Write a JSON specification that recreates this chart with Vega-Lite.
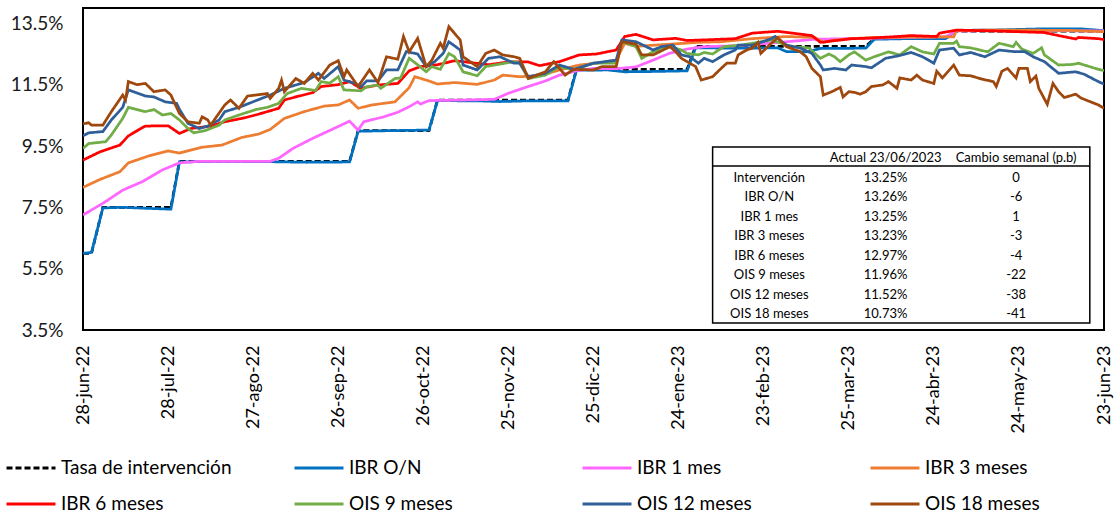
{
  "$schema": "https://vega.github.io/schema/vega-lite/v6.json",
  "width": 1021,
  "height": 322,
  "autosize": {"type": "none"},
  "padding": {"left": 83, "top": 8, "right": 11, "bottom": 183},
  "config": {
    "font": "Lato",
    "view": {"stroke": "black", "strokeWidth": 2},
    "axis": {"grid": false, "domain": false, "ticks": false, "tickSize": 0}
  },
  "datasets": {
    "series": [
      {"fecha":"2022-06-28","serie":"Tasa de intervención","valor":6.0},
      {"fecha":"2022-07-01","serie":"Tasa de intervención","valor":6.0},
      {"fecha":"2022-07-05","serie":"Tasa de intervención","valor":7.5},
      {"fecha":"2022-07-29","serie":"Tasa de intervención","valor":7.5},
      {"fecha":"2022-08-01","serie":"Tasa de intervención","valor":9.0},
      {"fecha":"2022-09-30","serie":"Tasa de intervención","valor":9.0},
      {"fecha":"2022-10-03","serie":"Tasa de intervención","valor":10.0},
      {"fecha":"2022-10-28","serie":"Tasa de intervención","valor":10.0},
      {"fecha":"2022-10-31","serie":"Tasa de intervención","valor":11.0},
      {"fecha":"2022-12-16","serie":"Tasa de intervención","valor":11.0},
      {"fecha":"2022-12-19","serie":"Tasa de intervención","valor":12.0},
      {"fecha":"2023-01-27","serie":"Tasa de intervención","valor":12.0},
      {"fecha":"2023-01-30","serie":"Tasa de intervención","valor":12.75},
      {"fecha":"2023-03-31","serie":"Tasa de intervención","valor":12.75},
      {"fecha":"2023-04-03","serie":"Tasa de intervención","valor":13.0},
      {"fecha":"2023-04-28","serie":"Tasa de intervención","valor":13.0},
      {"fecha":"2023-05-02","serie":"Tasa de intervención","valor":13.25},
      {"fecha":"2023-06-23","serie":"Tasa de intervención","valor":13.25},

      {"fecha":"2022-06-28","serie":"IBR O/N","valor":6.0},
      {"fecha":"2022-07-01","serie":"IBR O/N","valor":6.03},
      {"fecha":"2022-07-05","serie":"IBR O/N","valor":7.48},
      {"fecha":"2022-07-12","serie":"IBR O/N","valor":7.5},
      {"fecha":"2022-07-20","serie":"IBR O/N","valor":7.47},
      {"fecha":"2022-07-29","serie":"IBR O/N","valor":7.44},
      {"fecha":"2022-08-01","serie":"IBR O/N","valor":8.98},
      {"fecha":"2022-08-15","serie":"IBR O/N","valor":9.0},
      {"fecha":"2022-09-01","serie":"IBR O/N","valor":8.99},
      {"fecha":"2022-09-15","serie":"IBR O/N","valor":8.97},
      {"fecha":"2022-09-30","serie":"IBR O/N","valor":8.98},
      {"fecha":"2022-10-03","serie":"IBR O/N","valor":9.98},
      {"fecha":"2022-10-14","serie":"IBR O/N","valor":10.0},
      {"fecha":"2022-10-28","serie":"IBR O/N","valor":10.02},
      {"fecha":"2022-10-31","serie":"IBR O/N","valor":10.98},
      {"fecha":"2022-11-15","serie":"IBR O/N","valor":10.97},
      {"fecha":"2022-11-22","serie":"IBR O/N","valor":10.95},
      {"fecha":"2022-12-01","serie":"IBR O/N","valor":10.97},
      {"fecha":"2022-12-16","serie":"IBR O/N","valor":10.97},
      {"fecha":"2022-12-19","serie":"IBR O/N","valor":11.97},
      {"fecha":"2022-12-30","serie":"IBR O/N","valor":11.98},
      {"fecha":"2023-01-05","serie":"IBR O/N","valor":11.92},
      {"fecha":"2023-01-15","serie":"IBR O/N","valor":11.93},
      {"fecha":"2023-01-27","serie":"IBR O/N","valor":11.95},
      {"fecha":"2023-01-30","serie":"IBR O/N","valor":12.7},
      {"fecha":"2023-02-15","serie":"IBR O/N","valor":12.69},
      {"fecha":"2023-02-28","serie":"IBR O/N","valor":12.7},
      {"fecha":"2023-03-03","serie":"IBR O/N","valor":12.58},
      {"fecha":"2023-03-10","serie":"IBR O/N","valor":12.57},
      {"fecha":"2023-03-15","serie":"IBR O/N","valor":12.68},
      {"fecha":"2023-03-31","serie":"IBR O/N","valor":12.69},
      {"fecha":"2023-04-03","serie":"IBR O/N","valor":12.98},
      {"fecha":"2023-04-14","serie":"IBR O/N","valor":13.0},
      {"fecha":"2023-04-28","serie":"IBR O/N","valor":13.0},
      {"fecha":"2023-05-02","serie":"IBR O/N","valor":13.27},
      {"fecha":"2023-05-15","serie":"IBR O/N","valor":13.28},
      {"fecha":"2023-06-01","serie":"IBR O/N","valor":13.32},
      {"fecha":"2023-06-15","serie":"IBR O/N","valor":13.32},
      {"fecha":"2023-06-23","serie":"IBR O/N","valor":13.26},

      {"fecha":"2022-06-28","serie":"IBR 1 mes","valor":7.25},
      {"fecha":"2022-07-05","serie":"IBR 1 mes","valor":7.63},
      {"fecha":"2022-07-12","serie":"IBR 1 mes","valor":8.06},
      {"fecha":"2022-07-19","serie":"IBR 1 mes","valor":8.34},
      {"fecha":"2022-07-26","serie":"IBR 1 mes","valor":8.72},
      {"fecha":"2022-08-01","serie":"IBR 1 mes","valor":8.95},
      {"fecha":"2022-08-08","serie":"IBR 1 mes","valor":9.0},
      {"fecha":"2022-09-02","serie":"IBR 1 mes","valor":9.0},
      {"fecha":"2022-09-05","serie":"IBR 1 mes","valor":9.1},
      {"fecha":"2022-09-10","serie":"IBR 1 mes","valor":9.42},
      {"fecha":"2022-09-17","serie":"IBR 1 mes","valor":9.75},
      {"fecha":"2022-09-24","serie":"IBR 1 mes","valor":10.05},
      {"fecha":"2022-09-30","serie":"IBR 1 mes","valor":10.31},
      {"fecha":"2022-10-03","serie":"IBR 1 mes","valor":10.02},
      {"fecha":"2022-10-05","serie":"IBR 1 mes","valor":10.29},
      {"fecha":"2022-10-12","serie":"IBR 1 mes","valor":10.45},
      {"fecha":"2022-10-17","serie":"IBR 1 mes","valor":10.6},
      {"fecha":"2022-10-21","serie":"IBR 1 mes","valor":10.78},
      {"fecha":"2022-10-24","serie":"IBR 1 mes","valor":10.94},
      {"fecha":"2022-10-25","serie":"IBR 1 mes","valor":10.87},
      {"fecha":"2022-10-28","serie":"IBR 1 mes","valor":10.98},
      {"fecha":"2022-11-10","serie":"IBR 1 mes","valor":11.0},
      {"fecha":"2022-11-20","serie":"IBR 1 mes","valor":11.02},
      {"fecha":"2022-11-25","serie":"IBR 1 mes","valor":11.22},
      {"fecha":"2022-12-02","serie":"IBR 1 mes","valor":11.44},
      {"fecha":"2022-12-08","serie":"IBR 1 mes","valor":11.62},
      {"fecha":"2022-12-13","serie":"IBR 1 mes","valor":11.81},
      {"fecha":"2022-12-19","serie":"IBR 1 mes","valor":11.95},
      {"fecha":"2022-12-25","serie":"IBR 1 mes","valor":12.03},
      {"fecha":"2023-01-02","serie":"IBR 1 mes","valor":12.02},
      {"fecha":"2023-01-09","serie":"IBR 1 mes","valor":12.08},
      {"fecha":"2023-01-15","serie":"IBR 1 mes","valor":12.3},
      {"fecha":"2023-01-21","serie":"IBR 1 mes","valor":12.53},
      {"fecha":"2023-01-27","serie":"IBR 1 mes","valor":12.66},
      {"fecha":"2023-02-02","serie":"IBR 1 mes","valor":12.74},
      {"fecha":"2023-02-14","serie":"IBR 1 mes","valor":12.77},
      {"fecha":"2023-02-25","serie":"IBR 1 mes","valor":12.85},
      {"fecha":"2023-03-13","serie":"IBR 1 mes","valor":12.98},
      {"fecha":"2023-03-25","serie":"IBR 1 mes","valor":13.0},
      {"fecha":"2023-04-05","serie":"IBR 1 mes","valor":13.02},
      {"fecha":"2023-04-20","serie":"IBR 1 mes","valor":13.05},
      {"fecha":"2023-04-28","serie":"IBR 1 mes","valor":13.06},
      {"fecha":"2023-05-02","serie":"IBR 1 mes","valor":13.25},
      {"fecha":"2023-05-20","serie":"IBR 1 mes","valor":13.27},
      {"fecha":"2023-06-10","serie":"IBR 1 mes","valor":13.26},
      {"fecha":"2023-06-23","serie":"IBR 1 mes","valor":13.25},

      {"fecha":"2022-06-28","serie":"IBR 3 meses","valor":8.15},
      {"fecha":"2022-07-04","serie":"IBR 3 meses","valor":8.41},
      {"fecha":"2022-07-11","serie":"IBR 3 meses","valor":8.66},
      {"fecha":"2022-07-14","serie":"IBR 3 meses","valor":8.95},
      {"fecha":"2022-07-21","serie":"IBR 3 meses","valor":9.17},
      {"fecha":"2022-07-28","serie":"IBR 3 meses","valor":9.34},
      {"fecha":"2022-08-01","serie":"IBR 3 meses","valor":9.27},
      {"fecha":"2022-08-09","serie":"IBR 3 meses","valor":9.46},
      {"fecha":"2022-08-16","serie":"IBR 3 meses","valor":9.53},
      {"fecha":"2022-08-23","serie":"IBR 3 meses","valor":9.78},
      {"fecha":"2022-08-29","serie":"IBR 3 meses","valor":9.89},
      {"fecha":"2022-09-02","serie":"IBR 3 meses","valor":10.04},
      {"fecha":"2022-09-07","serie":"IBR 3 meses","valor":10.4},
      {"fecha":"2022-09-14","serie":"IBR 3 meses","valor":10.62},
      {"fecha":"2022-09-21","serie":"IBR 3 meses","valor":10.8},
      {"fecha":"2022-09-26","serie":"IBR 3 meses","valor":10.84},
      {"fecha":"2022-09-30","serie":"IBR 3 meses","valor":11.0},
      {"fecha":"2022-10-03","serie":"IBR 3 meses","valor":10.73},
      {"fecha":"2022-10-08","serie":"IBR 3 meses","valor":10.84},
      {"fecha":"2022-10-16","serie":"IBR 3 meses","valor":10.94},
      {"fecha":"2022-10-21","serie":"IBR 3 meses","valor":11.4},
      {"fecha":"2022-10-23","serie":"IBR 3 meses","valor":11.76},
      {"fecha":"2022-10-28","serie":"IBR 3 meses","valor":11.62},
      {"fecha":"2022-10-31","serie":"IBR 3 meses","valor":11.52},
      {"fecha":"2022-11-06","serie":"IBR 3 meses","valor":11.57},
      {"fecha":"2022-11-14","serie":"IBR 3 meses","valor":11.51},
      {"fecha":"2022-11-20","serie":"IBR 3 meses","valor":11.65},
      {"fecha":"2022-11-23","serie":"IBR 3 meses","valor":11.81},
      {"fecha":"2022-11-29","serie":"IBR 3 meses","valor":11.76},
      {"fecha":"2022-12-06","serie":"IBR 3 meses","valor":11.79},
      {"fecha":"2022-12-13","serie":"IBR 3 meses","valor":11.98},
      {"fecha":"2022-12-20","serie":"IBR 3 meses","valor":12.14},
      {"fecha":"2022-12-26","serie":"IBR 3 meses","valor":12.2},
      {"fecha":"2023-01-02","serie":"IBR 3 meses","valor":12.3},
      {"fecha":"2023-01-05","serie":"IBR 3 meses","valor":12.85},
      {"fecha":"2023-01-09","serie":"IBR 3 meses","valor":12.75},
      {"fecha":"2023-01-21","serie":"IBR 3 meses","valor":12.82},
      {"fecha":"2023-01-31","serie":"IBR 3 meses","valor":12.88},
      {"fecha":"2023-02-08","serie":"IBR 3 meses","valor":12.9},
      {"fecha":"2023-02-19","serie":"IBR 3 meses","valor":13.0},
      {"fecha":"2023-03-03","serie":"IBR 3 meses","valor":13.07},
      {"fecha":"2023-03-13","serie":"IBR 3 meses","valor":13.04},
      {"fecha":"2023-03-16","serie":"IBR 3 meses","valor":12.88},
      {"fecha":"2023-03-20","serie":"IBR 3 meses","valor":12.95},
      {"fecha":"2023-03-26","serie":"IBR 3 meses","valor":13.0},
      {"fecha":"2023-04-03","serie":"IBR 3 meses","valor":13.04},
      {"fecha":"2023-04-20","serie":"IBR 3 meses","valor":13.05},
      {"fecha":"2023-05-01","serie":"IBR 3 meses","valor":13.06},
      {"fecha":"2023-05-02","serie":"IBR 3 meses","valor":13.27},
      {"fecha":"2023-05-20","serie":"IBR 3 meses","valor":13.28},
      {"fecha":"2023-06-10","serie":"IBR 3 meses","valor":13.27},
      {"fecha":"2023-06-23","serie":"IBR 3 meses","valor":13.23},

      {"fecha":"2022-06-28","serie":"IBR 6 meses","valor":9.04},
      {"fecha":"2022-07-04","serie":"IBR 6 meses","valor":9.31},
      {"fecha":"2022-07-11","serie":"IBR 6 meses","valor":9.53},
      {"fecha":"2022-07-14","serie":"IBR 6 meses","valor":9.83},
      {"fecha":"2022-07-18","serie":"IBR 6 meses","valor":10.05},
      {"fecha":"2022-07-20","serie":"IBR 6 meses","valor":10.15},
      {"fecha":"2022-07-28","serie":"IBR 6 meses","valor":10.16},
      {"fecha":"2022-08-01","serie":"IBR 6 meses","valor":9.91},
      {"fecha":"2022-08-05","serie":"IBR 6 meses","valor":10.07},
      {"fecha":"2022-08-12","serie":"IBR 6 meses","valor":10.15},
      {"fecha":"2022-08-17","serie":"IBR 6 meses","valor":10.29},
      {"fecha":"2022-08-24","serie":"IBR 6 meses","valor":10.42},
      {"fecha":"2022-08-29","serie":"IBR 6 meses","valor":10.54},
      {"fecha":"2022-09-05","serie":"IBR 6 meses","valor":10.73},
      {"fecha":"2022-09-07","serie":"IBR 6 meses","valor":11.0},
      {"fecha":"2022-09-11","serie":"IBR 6 meses","valor":11.1},
      {"fecha":"2022-09-17","serie":"IBR 6 meses","valor":11.24},
      {"fecha":"2022-09-20","serie":"IBR 6 meses","valor":11.44},
      {"fecha":"2022-09-26","serie":"IBR 6 meses","valor":11.5},
      {"fecha":"2022-09-30","serie":"IBR 6 meses","valor":11.6},
      {"fecha":"2022-10-04","serie":"IBR 6 meses","valor":11.38},
      {"fecha":"2022-10-10","serie":"IBR 6 meses","valor":11.49},
      {"fecha":"2022-10-17","serie":"IBR 6 meses","valor":11.54},
      {"fecha":"2022-10-21","serie":"IBR 6 meses","valor":11.95},
      {"fecha":"2022-10-25","serie":"IBR 6 meses","valor":12.09},
      {"fecha":"2022-10-31","serie":"IBR 6 meses","valor":12.15},
      {"fecha":"2022-11-06","serie":"IBR 6 meses","valor":12.28},
      {"fecha":"2022-11-10","serie":"IBR 6 meses","valor":12.24},
      {"fecha":"2022-11-18","serie":"IBR 6 meses","valor":12.15},
      {"fecha":"2022-11-25","serie":"IBR 6 meses","valor":12.24},
      {"fecha":"2022-12-02","serie":"IBR 6 meses","valor":12.24},
      {"fecha":"2022-12-06","serie":"IBR 6 meses","valor":12.12},
      {"fecha":"2022-12-13","serie":"IBR 6 meses","valor":12.25},
      {"fecha":"2022-12-20","serie":"IBR 6 meses","valor":12.47},
      {"fecha":"2022-12-26","serie":"IBR 6 meses","valor":12.5},
      {"fecha":"2023-01-02","serie":"IBR 6 meses","valor":12.63},
      {"fecha":"2023-01-05","serie":"IBR 6 meses","valor":13.07},
      {"fecha":"2023-01-09","serie":"IBR 6 meses","valor":13.14},
      {"fecha":"2023-01-15","serie":"IBR 6 meses","valor":12.96},
      {"fecha":"2023-01-23","serie":"IBR 6 meses","valor":13.01},
      {"fecha":"2023-01-27","serie":"IBR 6 meses","valor":12.94},
      {"fecha":"2023-02-02","serie":"IBR 6 meses","valor":12.96},
      {"fecha":"2023-02-13","serie":"IBR 6 meses","valor":13.0},
      {"fecha":"2023-02-19","serie":"IBR 6 meses","valor":13.18},
      {"fecha":"2023-02-28","serie":"IBR 6 meses","valor":13.24},
      {"fecha":"2023-03-05","serie":"IBR 6 meses","valor":13.18},
      {"fecha":"2023-03-12","serie":"IBR 6 meses","valor":13.1},
      {"fecha":"2023-03-15","serie":"IBR 6 meses","valor":12.88},
      {"fecha":"2023-03-26","serie":"IBR 6 meses","valor":13.0},
      {"fecha":"2023-04-02","serie":"IBR 6 meses","valor":13.02},
      {"fecha":"2023-04-11","serie":"IBR 6 meses","valor":13.07},
      {"fecha":"2023-04-16","serie":"IBR 6 meses","valor":13.1},
      {"fecha":"2023-04-25","serie":"IBR 6 meses","valor":13.07},
      {"fecha":"2023-04-26","serie":"IBR 6 meses","valor":13.18},
      {"fecha":"2023-05-02","serie":"IBR 6 meses","valor":13.28},
      {"fecha":"2023-05-16","serie":"IBR 6 meses","valor":13.25},
      {"fecha":"2023-06-02","serie":"IBR 6 meses","valor":13.2},
      {"fecha":"2023-06-07","serie":"IBR 6 meses","valor":13.1},
      {"fecha":"2023-06-13","serie":"IBR 6 meses","valor":12.99},
      {"fecha":"2023-06-14","serie":"IBR 6 meses","valor":13.04},
      {"fecha":"2023-06-21","serie":"IBR 6 meses","valor":13.0},
      {"fecha":"2023-06-23","serie":"IBR 6 meses","valor":12.97},

      {"fecha":"2022-06-28","serie":"OIS 9 meses","valor":9.42},
      {"fecha":"2022-06-30","serie":"OIS 9 meses","valor":9.58},
      {"fecha":"2022-07-06","serie":"OIS 9 meses","valor":9.64},
      {"fecha":"2022-07-08","serie":"OIS 9 meses","valor":9.86},
      {"fecha":"2022-07-12","serie":"OIS 9 meses","valor":10.4},
      {"fecha":"2022-07-14","serie":"OIS 9 meses","valor":10.76},
      {"fecha":"2022-07-20","serie":"OIS 9 meses","valor":10.62},
      {"fecha":"2022-07-23","serie":"OIS 9 meses","valor":10.69},
      {"fecha":"2022-07-26","serie":"OIS 9 meses","valor":10.51},
      {"fecha":"2022-07-29","serie":"OIS 9 meses","valor":10.56},
      {"fecha":"2022-08-01","serie":"OIS 9 meses","valor":10.35},
      {"fecha":"2022-08-04","serie":"OIS 9 meses","valor":10.07},
      {"fecha":"2022-08-06","serie":"OIS 9 meses","valor":9.93},
      {"fecha":"2022-08-10","serie":"OIS 9 meses","valor":10.0},
      {"fecha":"2022-08-15","serie":"OIS 9 meses","valor":10.18},
      {"fecha":"2022-08-17","serie":"OIS 9 meses","valor":10.35},
      {"fecha":"2022-08-22","serie":"OIS 9 meses","valor":10.51},
      {"fecha":"2022-08-28","serie":"OIS 9 meses","valor":10.69},
      {"fecha":"2022-09-01","serie":"OIS 9 meses","valor":10.76},
      {"fecha":"2022-09-05","serie":"OIS 9 meses","valor":10.89},
      {"fecha":"2022-09-08","serie":"OIS 9 meses","valor":11.21},
      {"fecha":"2022-09-13","serie":"OIS 9 meses","valor":11.38},
      {"fecha":"2022-09-18","serie":"OIS 9 meses","valor":11.31},
      {"fecha":"2022-09-20","serie":"OIS 9 meses","valor":11.6},
      {"fecha":"2022-09-23","serie":"OIS 9 meses","valor":11.55},
      {"fecha":"2022-09-26","serie":"OIS 9 meses","valor":11.76},
      {"fecha":"2022-09-28","serie":"OIS 9 meses","valor":11.33},
      {"fecha":"2022-10-04","serie":"OIS 9 meses","valor":11.3},
      {"fecha":"2022-10-06","serie":"OIS 9 meses","valor":11.43},
      {"fecha":"2022-10-10","serie":"OIS 9 meses","valor":11.49},
      {"fecha":"2022-10-11","serie":"OIS 9 meses","valor":11.38},
      {"fecha":"2022-10-16","serie":"OIS 9 meses","valor":11.7},
      {"fecha":"2022-10-18","serie":"OIS 9 meses","valor":11.72},
      {"fecha":"2022-10-21","serie":"OIS 9 meses","valor":12.36},
      {"fecha":"2022-10-24","serie":"OIS 9 meses","valor":12.15},
      {"fecha":"2022-10-27","serie":"OIS 9 meses","valor":11.92},
      {"fecha":"2022-10-29","serie":"OIS 9 meses","valor":12.09},
      {"fecha":"2022-11-01","serie":"OIS 9 meses","valor":12.0},
      {"fecha":"2022-11-04","serie":"OIS 9 meses","valor":12.52},
      {"fecha":"2022-11-06","serie":"OIS 9 meses","valor":12.41},
      {"fecha":"2022-11-09","serie":"OIS 9 meses","valor":11.92},
      {"fecha":"2022-11-14","serie":"OIS 9 meses","valor":11.79},
      {"fecha":"2022-11-17","serie":"OIS 9 meses","valor":12.09},
      {"fecha":"2022-11-20","serie":"OIS 9 meses","valor":12.14},
      {"fecha":"2022-11-27","serie":"OIS 9 meses","valor":12.25},
      {"fecha":"2022-11-29","serie":"OIS 9 meses","valor":12.2},
      {"fecha":"2022-12-02","serie":"OIS 9 meses","valor":11.7},
      {"fecha":"2022-12-08","serie":"OIS 9 meses","valor":11.81},
      {"fecha":"2022-12-13","serie":"OIS 9 meses","valor":12.09},
      {"fecha":"2022-12-18","serie":"OIS 9 meses","valor":11.98},
      {"fecha":"2022-12-25","serie":"OIS 9 meses","valor":12.2},
      {"fecha":"2023-01-02","serie":"OIS 9 meses","valor":12.2},
      {"fecha":"2023-01-04","serie":"OIS 9 meses","valor":12.9},
      {"fecha":"2023-01-09","serie":"OIS 9 meses","valor":12.74},
      {"fecha":"2023-01-11","serie":"OIS 9 meses","valor":12.36},
      {"fecha":"2023-01-15","serie":"OIS 9 meses","valor":12.57},
      {"fecha":"2023-01-21","serie":"OIS 9 meses","valor":12.74},
      {"fecha":"2023-01-25","serie":"OIS 9 meses","valor":12.63},
      {"fecha":"2023-01-27","serie":"OIS 9 meses","valor":12.52},
      {"fecha":"2023-01-31","serie":"OIS 9 meses","valor":12.47},
      {"fecha":"2023-02-02","serie":"OIS 9 meses","valor":12.55},
      {"fecha":"2023-02-05","serie":"OIS 9 meses","valor":12.5},
      {"fecha":"2023-02-09","serie":"OIS 9 meses","valor":12.74},
      {"fecha":"2023-02-15","serie":"OIS 9 meses","valor":12.79},
      {"fecha":"2023-02-19","serie":"OIS 9 meses","valor":12.85},
      {"fecha":"2023-02-26","serie":"OIS 9 meses","valor":12.96},
      {"fecha":"2023-02-28","serie":"OIS 9 meses","valor":12.88},
      {"fecha":"2023-03-05","serie":"OIS 9 meses","valor":12.74},
      {"fecha":"2023-03-11","serie":"OIS 9 meses","valor":12.7},
      {"fecha":"2023-03-13","serie":"OIS 9 meses","valor":12.52},
      {"fecha":"2023-03-15","serie":"OIS 9 meses","valor":12.36},
      {"fecha":"2023-03-18","serie":"OIS 9 meses","valor":12.5},
      {"fecha":"2023-03-20","serie":"OIS 9 meses","valor":12.41},
      {"fecha":"2023-03-22","serie":"OIS 9 meses","valor":12.25},
      {"fecha":"2023-03-25","serie":"OIS 9 meses","valor":12.47},
      {"fecha":"2023-03-27","serie":"OIS 9 meses","valor":12.57},
      {"fecha":"2023-03-31","serie":"OIS 9 meses","valor":12.3},
      {"fecha":"2023-04-03","serie":"OIS 9 meses","valor":12.41},
      {"fecha":"2023-04-08","serie":"OIS 9 meses","valor":12.57},
      {"fecha":"2023-04-12","serie":"OIS 9 meses","valor":12.47},
      {"fecha":"2023-04-16","serie":"OIS 9 meses","valor":12.74},
      {"fecha":"2023-04-20","serie":"OIS 9 meses","valor":12.57},
      {"fecha":"2023-04-24","serie":"OIS 9 meses","valor":12.5},
      {"fecha":"2023-04-26","serie":"OIS 9 meses","valor":12.85},
      {"fecha":"2023-05-01","serie":"OIS 9 meses","valor":12.85},
      {"fecha":"2023-05-02","serie":"OIS 9 meses","valor":12.92},
      {"fecha":"2023-05-03","serie":"OIS 9 meses","valor":12.74},
      {"fecha":"2023-05-07","serie":"OIS 9 meses","valor":12.7},
      {"fecha":"2023-05-13","serie":"OIS 9 meses","valor":12.57},
      {"fecha":"2023-05-17","serie":"OIS 9 meses","valor":12.85},
      {"fecha":"2023-05-22","serie":"OIS 9 meses","valor":12.74},
      {"fecha":"2023-05-23","serie":"OIS 9 meses","valor":12.88},
      {"fecha":"2023-05-25","serie":"OIS 9 meses","valor":12.66},
      {"fecha":"2023-05-29","serie":"OIS 9 meses","valor":12.52},
      {"fecha":"2023-06-01","serie":"OIS 9 meses","valor":12.7},
      {"fecha":"2023-06-02","serie":"OIS 9 meses","valor":12.47},
      {"fecha":"2023-06-07","serie":"OIS 9 meses","valor":12.14},
      {"fecha":"2023-06-12","serie":"OIS 9 meses","valor":12.16},
      {"fecha":"2023-06-14","serie":"OIS 9 meses","valor":12.2},
      {"fecha":"2023-06-21","serie":"OIS 9 meses","valor":12.0},
      {"fecha":"2023-06-23","serie":"OIS 9 meses","valor":11.96},

      {"fecha":"2022-06-28","serie":"OIS 12 meses","valor":9.83},
      {"fecha":"2022-06-30","serie":"OIS 12 meses","valor":9.93},
      {"fecha":"2022-07-05","serie":"OIS 12 meses","valor":9.97},
      {"fecha":"2022-07-08","serie":"OIS 12 meses","valor":10.35},
      {"fecha":"2022-07-12","serie":"OIS 12 meses","valor":10.76},
      {"fecha":"2022-07-14","serie":"OIS 12 meses","valor":11.33},
      {"fecha":"2022-07-20","serie":"OIS 12 meses","valor":11.13},
      {"fecha":"2022-07-23","serie":"OIS 12 meses","valor":11.1},
      {"fecha":"2022-07-27","serie":"OIS 12 meses","valor":10.94},
      {"fecha":"2022-07-31","serie":"OIS 12 meses","valor":10.89},
      {"fecha":"2022-08-01","serie":"OIS 12 meses","valor":10.7},
      {"fecha":"2022-08-04","serie":"OIS 12 meses","valor":10.24},
      {"fecha":"2022-08-08","serie":"OIS 12 meses","valor":10.07},
      {"fecha":"2022-08-11","serie":"OIS 12 meses","valor":10.15},
      {"fecha":"2022-08-15","serie":"OIS 12 meses","valor":10.35},
      {"fecha":"2022-08-17","serie":"OIS 12 meses","valor":10.62},
      {"fecha":"2022-08-22","serie":"OIS 12 meses","valor":10.76},
      {"fecha":"2022-08-28","serie":"OIS 12 meses","valor":10.98},
      {"fecha":"2022-09-02","serie":"OIS 12 meses","valor":11.16},
      {"fecha":"2022-09-07","serie":"OIS 12 meses","valor":11.38},
      {"fecha":"2022-09-14","serie":"OIS 12 meses","valor":11.57},
      {"fecha":"2022-09-19","serie":"OIS 12 meses","valor":11.87},
      {"fecha":"2022-09-21","serie":"OIS 12 meses","valor":11.7},
      {"fecha":"2022-09-26","serie":"OIS 12 meses","valor":12.09},
      {"fecha":"2022-09-28","serie":"OIS 12 meses","valor":11.65},
      {"fecha":"2022-10-02","serie":"OIS 12 meses","valor":11.54},
      {"fecha":"2022-10-04","serie":"OIS 12 meses","valor":11.43},
      {"fecha":"2022-10-06","serie":"OIS 12 meses","valor":11.62},
      {"fecha":"2022-10-10","serie":"OIS 12 meses","valor":11.62},
      {"fecha":"2022-10-13","serie":"OIS 12 meses","valor":11.98},
      {"fecha":"2022-10-17","serie":"OIS 12 meses","valor":11.98},
      {"fecha":"2022-10-20","serie":"OIS 12 meses","valor":12.58},
      {"fecha":"2022-10-24","serie":"OIS 12 meses","valor":12.5},
      {"fecha":"2022-10-27","serie":"OIS 12 meses","valor":12.09},
      {"fecha":"2022-10-30","serie":"OIS 12 meses","valor":12.25},
      {"fecha":"2022-11-02","serie":"OIS 12 meses","valor":12.52},
      {"fecha":"2022-11-04","serie":"OIS 12 meses","valor":12.9},
      {"fecha":"2022-11-08","serie":"OIS 12 meses","valor":12.63},
      {"fecha":"2022-11-09","serie":"OIS 12 meses","valor":12.14},
      {"fecha":"2022-11-14","serie":"OIS 12 meses","valor":11.98},
      {"fecha":"2022-11-18","serie":"OIS 12 meses","valor":12.36},
      {"fecha":"2022-11-22","serie":"OIS 12 meses","valor":12.41},
      {"fecha":"2022-11-27","serie":"OIS 12 meses","valor":12.2},
      {"fecha":"2022-11-29","serie":"OIS 12 meses","valor":12.2},
      {"fecha":"2022-12-02","serie":"OIS 12 meses","valor":11.76},
      {"fecha":"2022-12-08","serie":"OIS 12 meses","valor":11.87},
      {"fecha":"2022-12-13","serie":"OIS 12 meses","valor":12.14},
      {"fecha":"2022-12-18","serie":"OIS 12 meses","valor":12.0},
      {"fecha":"2022-12-25","serie":"OIS 12 meses","valor":12.2},
      {"fecha":"2023-01-02","serie":"OIS 12 meses","valor":12.3},
      {"fecha":"2023-01-04","serie":"OIS 12 meses","valor":12.96},
      {"fecha":"2023-01-09","serie":"OIS 12 meses","valor":12.9},
      {"fecha":"2023-01-15","serie":"OIS 12 meses","valor":12.63},
      {"fecha":"2023-01-18","serie":"OIS 12 meses","valor":12.74},
      {"fecha":"2023-01-22","serie":"OIS 12 meses","valor":12.79},
      {"fecha":"2023-01-25","serie":"OIS 12 meses","valor":12.47},
      {"fecha":"2023-01-28","serie":"OIS 12 meses","valor":12.41},
      {"fecha":"2023-01-31","serie":"OIS 12 meses","valor":12.2},
      {"fecha":"2023-02-02","serie":"OIS 12 meses","valor":12.36},
      {"fecha":"2023-02-05","serie":"OIS 12 meses","valor":12.25},
      {"fecha":"2023-02-09","serie":"OIS 12 meses","valor":12.47},
      {"fecha":"2023-02-13","serie":"OIS 12 meses","valor":12.63},
      {"fecha":"2023-02-14","serie":"OIS 12 meses","valor":12.79},
      {"fecha":"2023-02-19","serie":"OIS 12 meses","valor":12.79},
      {"fecha":"2023-02-22","serie":"OIS 12 meses","valor":12.88},
      {"fecha":"2023-02-26","serie":"OIS 12 meses","valor":13.01},
      {"fecha":"2023-02-27","serie":"OIS 12 meses","valor":13.07},
      {"fecha":"2023-03-03","serie":"OIS 12 meses","valor":12.79},
      {"fecha":"2023-03-08","serie":"OIS 12 meses","valor":12.69},
      {"fecha":"2023-03-12","serie":"OIS 12 meses","valor":12.52},
      {"fecha":"2023-03-15","serie":"OIS 12 meses","valor":12.14},
      {"fecha":"2023-03-16","serie":"OIS 12 meses","valor":11.98},
      {"fecha":"2023-03-20","serie":"OIS 12 meses","valor":12.03},
      {"fecha":"2023-03-24","serie":"OIS 12 meses","valor":11.98},
      {"fecha":"2023-03-26","serie":"OIS 12 meses","valor":12.14},
      {"fecha":"2023-03-31","serie":"OIS 12 meses","valor":12.09},
      {"fecha":"2023-04-02","serie":"OIS 12 meses","valor":12.05},
      {"fecha":"2023-04-07","serie":"OIS 12 meses","valor":12.36},
      {"fecha":"2023-04-12","serie":"OIS 12 meses","valor":12.45},
      {"fecha":"2023-04-16","serie":"OIS 12 meses","valor":12.55},
      {"fecha":"2023-04-20","serie":"OIS 12 meses","valor":12.41},
      {"fecha":"2023-04-24","serie":"OIS 12 meses","valor":12.2},
      {"fecha":"2023-04-26","serie":"OIS 12 meses","valor":12.63},
      {"fecha":"2023-05-01","serie":"OIS 12 meses","valor":12.69},
      {"fecha":"2023-05-03","serie":"OIS 12 meses","valor":12.47},
      {"fecha":"2023-05-07","serie":"OIS 12 meses","valor":12.55},
      {"fecha":"2023-05-12","serie":"OIS 12 meses","valor":12.41},
      {"fecha":"2023-05-17","serie":"OIS 12 meses","valor":12.63},
      {"fecha":"2023-05-22","serie":"OIS 12 meses","valor":12.58},
      {"fecha":"2023-05-26","serie":"OIS 12 meses","valor":12.58},
      {"fecha":"2023-05-29","serie":"OIS 12 meses","valor":12.41},
      {"fecha":"2023-06-02","serie":"OIS 12 meses","valor":12.25},
      {"fecha":"2023-06-07","serie":"OIS 12 meses","valor":11.87},
      {"fecha":"2023-06-13","serie":"OIS 12 meses","valor":11.92},
      {"fecha":"2023-06-16","serie":"OIS 12 meses","valor":11.84},
      {"fecha":"2023-06-21","serie":"OIS 12 meses","valor":11.6},
      {"fecha":"2023-06-23","serie":"OIS 12 meses","valor":11.52},

      {"fecha":"2022-06-28","serie":"OIS 18 meses","valor":10.22},
      {"fecha":"2022-06-30","serie":"OIS 18 meses","valor":10.26},
      {"fecha":"2022-07-01","serie":"OIS 18 meses","valor":10.18},
      {"fecha":"2022-07-05","serie":"OIS 18 meses","valor":10.18},
      {"fecha":"2022-07-08","serie":"OIS 18 meses","valor":10.62},
      {"fecha":"2022-07-12","serie":"OIS 18 meses","valor":11.16},
      {"fecha":"2022-07-13","serie":"OIS 18 meses","valor":11.0},
      {"fecha":"2022-07-14","serie":"OIS 18 meses","valor":11.6},
      {"fecha":"2022-07-17","serie":"OIS 18 meses","valor":11.5},
      {"fecha":"2022-07-20","serie":"OIS 18 meses","valor":11.54},
      {"fecha":"2022-07-23","serie":"OIS 18 meses","valor":11.27},
      {"fecha":"2022-07-27","serie":"OIS 18 meses","valor":11.33},
      {"fecha":"2022-07-29","serie":"OIS 18 meses","valor":11.16},
      {"fecha":"2022-08-01","serie":"OIS 18 meses","valor":10.56},
      {"fecha":"2022-08-04","serie":"OIS 18 meses","valor":10.29},
      {"fecha":"2022-08-08","serie":"OIS 18 meses","valor":10.24},
      {"fecha":"2022-08-09","serie":"OIS 18 meses","valor":10.45},
      {"fecha":"2022-08-11","serie":"OIS 18 meses","valor":10.35},
      {"fecha":"2022-08-12","serie":"OIS 18 meses","valor":10.18},
      {"fecha":"2022-08-17","serie":"OIS 18 meses","valor":10.84},
      {"fecha":"2022-08-19","serie":"OIS 18 meses","valor":11.0},
      {"fecha":"2022-08-22","serie":"OIS 18 meses","valor":10.73},
      {"fecha":"2022-08-25","serie":"OIS 18 meses","valor":11.13},
      {"fecha":"2022-09-01","serie":"OIS 18 meses","valor":11.21},
      {"fecha":"2022-09-02","serie":"OIS 18 meses","valor":11.05},
      {"fecha":"2022-09-05","serie":"OIS 18 meses","valor":11.38},
      {"fecha":"2022-09-06","serie":"OIS 18 meses","valor":11.65},
      {"fecha":"2022-09-07","serie":"OIS 18 meses","valor":11.27},
      {"fecha":"2022-09-11","serie":"OIS 18 meses","valor":11.7},
      {"fecha":"2022-09-14","serie":"OIS 18 meses","valor":11.54},
      {"fecha":"2022-09-17","serie":"OIS 18 meses","valor":11.87},
      {"fecha":"2022-09-19","serie":"OIS 18 meses","valor":11.65},
      {"fecha":"2022-09-23","serie":"OIS 18 meses","valor":12.14},
      {"fecha":"2022-09-26","serie":"OIS 18 meses","valor":12.28},
      {"fecha":"2022-09-28","serie":"OIS 18 meses","valor":11.76},
      {"fecha":"2022-09-29","serie":"OIS 18 meses","valor":11.98},
      {"fecha":"2022-10-03","serie":"OIS 18 meses","valor":11.44},
      {"fecha":"2022-10-07","serie":"OIS 18 meses","valor":11.98},
      {"fecha":"2022-10-10","serie":"OIS 18 meses","valor":11.57},
      {"fecha":"2022-10-13","serie":"OIS 18 meses","valor":12.41},
      {"fecha":"2022-10-17","serie":"OIS 18 meses","valor":12.33},
      {"fecha":"2022-10-19","serie":"OIS 18 meses","valor":13.07},
      {"fecha":"2022-10-21","serie":"OIS 18 meses","valor":12.57},
      {"fecha":"2022-10-24","serie":"OIS 18 meses","valor":13.01},
      {"fecha":"2022-10-27","serie":"OIS 18 meses","valor":12.09},
      {"fecha":"2022-10-29","serie":"OIS 18 meses","valor":12.3},
      {"fecha":"2022-11-01","serie":"OIS 18 meses","valor":12.85},
      {"fecha":"2022-11-02","serie":"OIS 18 meses","valor":12.69},
      {"fecha":"2022-11-04","serie":"OIS 18 meses","valor":13.39},
      {"fecha":"2022-11-08","serie":"OIS 18 meses","valor":12.96},
      {"fecha":"2022-11-09","serie":"OIS 18 meses","valor":12.41},
      {"fecha":"2022-11-14","serie":"OIS 18 meses","valor":12.09},
      {"fecha":"2022-11-17","serie":"OIS 18 meses","valor":12.52},
      {"fecha":"2022-11-20","serie":"OIS 18 meses","valor":12.63},
      {"fecha":"2022-11-23","serie":"OIS 18 meses","valor":12.47},
      {"fecha":"2022-11-27","serie":"OIS 18 meses","valor":12.41},
      {"fecha":"2022-11-29","serie":"OIS 18 meses","valor":12.36},
      {"fecha":"2022-12-02","serie":"OIS 18 meses","valor":11.7},
      {"fecha":"2022-12-08","serie":"OIS 18 meses","valor":11.92},
      {"fecha":"2022-12-11","serie":"OIS 18 meses","valor":12.25},
      {"fecha":"2022-12-15","serie":"OIS 18 meses","valor":11.81},
      {"fecha":"2022-12-18","serie":"OIS 18 meses","valor":12.0},
      {"fecha":"2022-12-25","serie":"OIS 18 meses","valor":11.98},
      {"fecha":"2022-12-28","serie":"OIS 18 meses","valor":12.09},
      {"fecha":"2023-01-02","serie":"OIS 18 meses","valor":12.09},
      {"fecha":"2023-01-04","serie":"OIS 18 meses","valor":12.9},
      {"fecha":"2023-01-09","serie":"OIS 18 meses","valor":12.82},
      {"fecha":"2023-01-11","serie":"OIS 18 meses","valor":12.47},
      {"fecha":"2023-01-15","serie":"OIS 18 meses","valor":12.47},
      {"fecha":"2023-01-21","serie":"OIS 18 meses","valor":12.74},
      {"fecha":"2023-01-23","serie":"OIS 18 meses","valor":12.57},
      {"fecha":"2023-01-25","serie":"OIS 18 meses","valor":12.36},
      {"fecha":"2023-01-27","serie":"OIS 18 meses","valor":12.25},
      {"fecha":"2023-01-30","serie":"OIS 18 meses","valor":12.09},
      {"fecha":"2023-02-01","serie":"OIS 18 meses","valor":11.65},
      {"fecha":"2023-02-05","serie":"OIS 18 meses","valor":11.76},
      {"fecha":"2023-02-08","serie":"OIS 18 meses","valor":12.03},
      {"fecha":"2023-02-10","serie":"OIS 18 meses","valor":12.2},
      {"fecha":"2023-02-13","serie":"OIS 18 meses","valor":12.2},
      {"fecha":"2023-02-14","serie":"OIS 18 meses","valor":12.47},
      {"fecha":"2023-02-17","serie":"OIS 18 meses","valor":12.63},
      {"fecha":"2023-02-19","serie":"OIS 18 meses","valor":12.69},
      {"fecha":"2023-02-21","serie":"OIS 18 meses","valor":12.88},
      {"fecha":"2023-02-22","serie":"OIS 18 meses","valor":12.52},
      {"fecha":"2023-02-25","serie":"OIS 18 meses","valor":12.79},
      {"fecha":"2023-02-28","serie":"OIS 18 meses","valor":13.03},
      {"fecha":"2023-03-03","serie":"OIS 18 meses","valor":12.74},
      {"fecha":"2023-03-08","serie":"OIS 18 meses","valor":12.57},
      {"fecha":"2023-03-10","serie":"OIS 18 meses","valor":12.41},
      {"fecha":"2023-03-12","serie":"OIS 18 meses","valor":12.03},
      {"fecha":"2023-03-15","serie":"OIS 18 meses","valor":11.76},
      {"fecha":"2023-03-16","serie":"OIS 18 meses","valor":11.16},
      {"fecha":"2023-03-19","serie":"OIS 18 meses","valor":11.27},
      {"fecha":"2023-03-22","serie":"OIS 18 meses","valor":11.41},
      {"fecha":"2023-03-23","serie":"OIS 18 meses","valor":11.1},
      {"fecha":"2023-03-25","serie":"OIS 18 meses","valor":11.27},
      {"fecha":"2023-03-27","serie":"OIS 18 meses","valor":11.25},
      {"fecha":"2023-03-29","serie":"OIS 18 meses","valor":11.19},
      {"fecha":"2023-03-31","serie":"OIS 18 meses","valor":11.27},
      {"fecha":"2023-04-02","serie":"OIS 18 meses","valor":11.44},
      {"fecha":"2023-04-06","serie":"OIS 18 meses","valor":11.49},
      {"fecha":"2023-04-08","serie":"OIS 18 meses","valor":11.6},
      {"fecha":"2023-04-11","serie":"OIS 18 meses","valor":11.38},
      {"fecha":"2023-04-12","serie":"OIS 18 meses","valor":11.72},
      {"fecha":"2023-04-16","serie":"OIS 18 meses","valor":11.65},
      {"fecha":"2023-04-18","serie":"OIS 18 meses","valor":11.81},
      {"fecha":"2023-04-20","serie":"OIS 18 meses","valor":11.65},
      {"fecha":"2023-04-24","serie":"OIS 18 meses","valor":11.54},
      {"fecha":"2023-04-25","serie":"OIS 18 meses","valor":11.94},
      {"fecha":"2023-04-27","serie":"OIS 18 meses","valor":11.72},
      {"fecha":"2023-05-01","serie":"OIS 18 meses","valor":12.14},
      {"fecha":"2023-05-03","serie":"OIS 18 meses","valor":11.81},
      {"fecha":"2023-05-07","serie":"OIS 18 meses","valor":11.79},
      {"fecha":"2023-05-11","serie":"OIS 18 meses","valor":11.68},
      {"fecha":"2023-05-15","serie":"OIS 18 meses","valor":11.6},
      {"fecha":"2023-05-16","serie":"OIS 18 meses","valor":11.44},
      {"fecha":"2023-05-18","serie":"OIS 18 meses","valor":11.94},
      {"fecha":"2023-05-20","serie":"OIS 18 meses","valor":12.03},
      {"fecha":"2023-05-23","serie":"OIS 18 meses","valor":11.72},
      {"fecha":"2023-05-24","serie":"OIS 18 meses","valor":12.03},
      {"fecha":"2023-05-27","serie":"OIS 18 meses","valor":12.03},
      {"fecha":"2023-05-28","serie":"OIS 18 meses","valor":11.6},
      {"fecha":"2023-05-30","serie":"OIS 18 meses","valor":11.78},
      {"fecha":"2023-05-31","serie":"OIS 18 meses","valor":11.38},
      {"fecha":"2023-06-03","serie":"OIS 18 meses","valor":10.86},
      {"fecha":"2023-06-05","serie":"OIS 18 meses","valor":11.54},
      {"fecha":"2023-06-07","serie":"OIS 18 meses","valor":11.27},
      {"fecha":"2023-06-09","serie":"OIS 18 meses","valor":11.08},
      {"fecha":"2023-06-13","serie":"OIS 18 meses","valor":11.19},
      {"fecha":"2023-06-15","serie":"OIS 18 meses","valor":11.06},
      {"fecha":"2023-06-21","serie":"OIS 18 meses","valor":10.84},
      {"fecha":"2023-06-23","serie":"OIS 18 meses","valor":10.73}
    ],
    "tabla": [
      {"Instrumento":"","Actual":"Actual 23/06/2023","Cambio":"Cambio semanal (p.b)"},
      {"Instrumento":"Intervención","Actual":"13.25%","Cambio":"0"},
      {"Instrumento":"IBR O/N","Actual":"13.26%","Cambio":"-6"},
      {"Instrumento":"IBR 1 mes","Actual":"13.25%","Cambio":"1"},
      {"Instrumento":"IBR 3 meses","Actual":"13.23%","Cambio":"-3"},
      {"Instrumento":"IBR 6 meses","Actual":"12.97%","Cambio":"-4"},
      {"Instrumento":"OIS 9 meses","Actual":"11.96%","Cambio":"-22"},
      {"Instrumento":"OIS 12 meses","Actual":"11.52%","Cambio":"-38"},
      {"Instrumento":"OIS 18 meses","Actual":"10.73%","Cambio":"-41"}
    ],
    "marco": [{"t": "tabla"}]
  },
  "resolve": {"scale": {"y": "independent"}},
  "layer": [
    {
      "data": {"name": "series"},
      "mark": {"type": "line", "strokeWidth": 2.75, "clip": true},
      "encoding": {
        "x": {
          "field": "fecha", "type": "temporal",
          "scale": {"type": "utc", "domain": [
            {"year": 2022, "month": 6, "date": 28, "utc": true},
            {"year": 2023, "month": 6, "date": 23, "utc": true}]},
          "axis": {
            "title": null,
            "values": [
              {"year": 2022, "month": 6, "date": 28, "utc": true},
              {"year": 2022, "month": 7, "date": 28, "utc": true},
              {"year": 2022, "month": 8, "date": 27, "utc": true},
              {"year": 2022, "month": 9, "date": 26, "utc": true},
              {"year": 2022, "month": 10, "date": 26, "utc": true},
              {"year": 2022, "month": 11, "date": 25, "utc": true},
              {"year": 2022, "month": 12, "date": 25, "utc": true},
              {"year": 2023, "month": 1, "date": 24, "utc": true},
              {"year": 2023, "month": 2, "date": 23, "utc": true},
              {"year": 2023, "month": 3, "date": 25, "utc": true},
              {"year": 2023, "month": 4, "date": 24, "utc": true},
              {"year": 2023, "month": 5, "date": 24, "utc": true},
              {"year": 2023, "month": 6, "date": 23, "utc": true}],
            "labelExpr": "utcFormat(datum.value, '%d') + '-' + ['ene','feb','mar','abr','may','jun','jul','ago','sep','oct','nov','dic'][utcmonth(datum.value)] + '-' + utcFormat(datum.value, '%y')",
            "labelAngle": -90, "labelAlign": "right", "labelBaseline": "middle",
            "labelFont": "Lato", "labelFontSize": 18, "labelColor": "#000000",
            "labelPadding": 15, "labelOverlap": false, "labelFlush": false, "labelBound": false
          }
        },
        "y": {
          "field": "valor", "type": "quantitative",
          "scale": {"domain": [3.5, 14], "nice": false, "zero": false},
          "axis": {
            "title": null,
            "values": [3.5, 5.5, 7.5, 9.5, 11.5, 13.5],
            "labelExpr": "format(datum.value, '.1f') + '%'",
            "labelFont": "Lato", "labelFontSize": 19, "labelColor": "#1a1a1a",
            "labelPadding": 20, "labelFlush": false, "labelOverlap": false
          }
        },
        "color": {
          "field": "serie", "type": "nominal", "title": null,
          "scale": {
            "domain": ["Tasa de intervención","IBR O/N","IBR 1 mes","IBR 3 meses","IBR 6 meses","OIS 9 meses","OIS 12 meses","OIS 18 meses"],
            "range": ["#000000","#0070C0","#FF66FF","#ED7D31","#FF0000","#70AD47","#2F5F98","#9E480E"]
          },
          "legend": {
            "orient": "none", "legendX": -78, "legendY": 434, "direction": "horizontal",
            "columns": 4, "gridAlign": "all", "columnPadding": 56, "rowPadding": -18,
            "symbolType": "stroke", "symbolSize": 2400, "symbolStrokeWidth": 3,
            "labelFont": "Lato", "labelFontSize": 19, "labelColor": "#000000",
            "labelOffset": 4, "labelLimit": 400
          }
        },
        "strokeDash": {
          "field": "serie", "type": "nominal", "title": null,
          "scale": {
            "domain": ["Tasa de intervención","IBR O/N","IBR 1 mes","IBR 3 meses","IBR 6 meses","OIS 9 meses","OIS 12 meses","OIS 18 meses"],
            "range": [[6,3],[1,0],[1,0],[1,0],[1,0],[1,0],[1,0],[1,0]]
          }
        }
      }
    },
    {
      "data": {"name": "marco"},
      "mark": {"type": "rect", "fill": "white", "stroke": "black", "strokeWidth": 1.5},
      "encoding": {
        "x": {"datum": {"year": 2023, "month": 2, "date": 5, "utc": true}, "type": "temporal"},
        "x2": {"datum": {"year": 2023, "month": 6, "date": 18, "utc": true}},
        "y": {"datum": 9.467, "type": "quantitative", "scale": {"domain": [3.5, 14], "nice": false, "zero": false}, "axis": null},
        "y2": {"datum": 3.73}
      }
    },
    {
      "data": {"name": "marco"},
      "mark": {"type": "rule", "stroke": "black", "strokeWidth": 1.5},
      "encoding": {
        "x": {"datum": {"year": 2023, "month": 2, "date": 5, "utc": true}, "type": "temporal"},
        "x2": {"datum": {"year": 2023, "month": 6, "date": 18, "utc": true}},
        "y": {"datum": 8.85, "type": "quantitative", "scale": {"domain": [3.5, 14], "nice": false, "zero": false}, "axis": null}
      }
    },
    {
      "data": {"name": "tabla"},
      "mark": {"type": "text", "font": "Lato", "fontSize": 13, "color": "#000000", "align": "center", "baseline": "middle"},
      "encoding": {
        "x": {"datum": {"year": 2023, "month": 2, "date": 25, "utc": true}, "type": "temporal"},
        "y": {"field": "Instrumento", "type": "nominal", "sort": null, "scale": {"type": "point", "padding": 0, "range": [150, 306]}, "axis": null},
        "text": {"field": "Instrumento"}
      }
    },
    {
      "data": {"name": "tabla"},
      "mark": {"type": "text", "font": "Lato", "fontSize": 13, "color": "#000000", "align": "center", "baseline": "middle"},
      "encoding": {
        "x": {"datum": {"year": 2023, "month": 4, "date": 7, "utc": true}, "type": "temporal"},
        "y": {"field": "Instrumento", "type": "nominal", "sort": null, "scale": {"type": "point", "padding": 0, "range": [150, 306]}, "axis": null},
        "text": {"field": "Actual"}
      }
    },
    {
      "data": {"name": "tabla"},
      "mark": {"type": "text", "font": "Lato", "fontSize": 13, "color": "#000000", "align": "center", "baseline": "middle"},
      "encoding": {
        "x": {"datum": {"year": 2023, "month": 5, "date": 23, "utc": true}, "type": "temporal"},
        "y": {"field": "Instrumento", "type": "nominal", "sort": null, "scale": {"type": "point", "padding": 0, "range": [150, 306]}, "axis": null},
        "text": {"field": "Cambio"}
      }
    }
  ]
}
